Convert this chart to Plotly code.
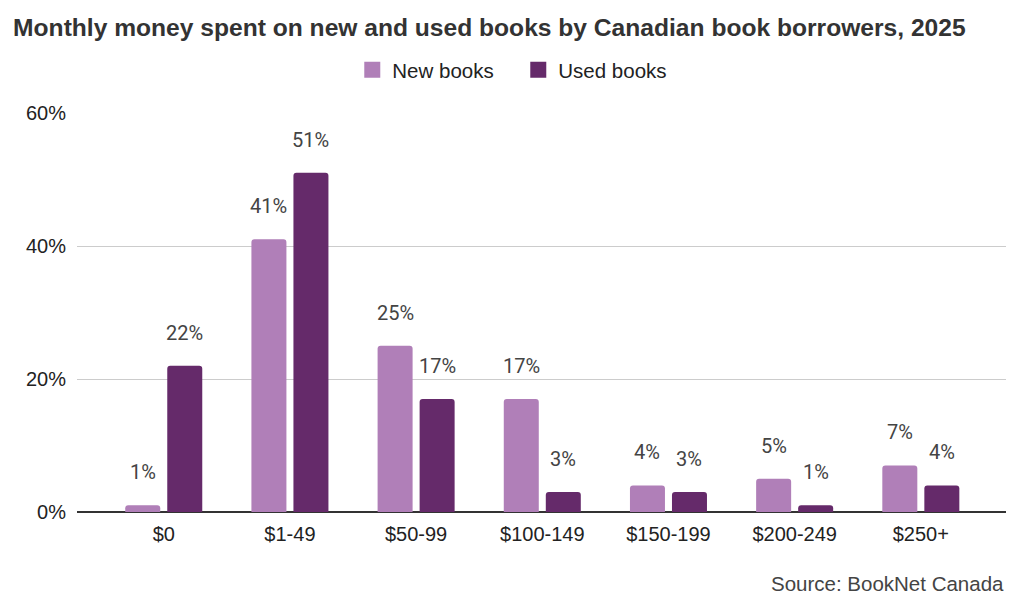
import plotly.graph_objects as go

categories = ["$0", "$1-49", "$50-99", "$100-149", "$150-199", "$200-249", "$250+"]
new_books = [1, 41, 25, 17, 4, 5, 7]
used_books = [22, 51, 17, 3, 3, 1, 4]

series = [("New books", new_books, "#b07fb8", -21), ("Used books", used_books, "#652a6a", 21)]

fig = go.Figure()
annotations = []
for name, values, color, shift in series:
    fig.add_trace(go.Bar(x=categories, y=values, name=name, showlegend=False,
                         marker=dict(color=color, line=dict(width=0)), hoverinfo="x+y"))
    # legend proxy with a bigger square symbol
    fig.add_trace(go.Scatter(x=[None], y=[None], mode="markers", name=name,
                             marker=dict(color=color, symbol="square", size=19)))
    for cat, v in zip(categories, values):
        annotations.append(dict(x=cat, y=v, text=f"{v}%", showarrow=False, xshift=shift,
                                yshift=33, yanchor="middle",
                                font=dict(family="Roboto", size=20, color="#444")))

annotations.append(dict(text="Source: BookNet Canada", x=1, xref="paper", xanchor="right",
                        y=-0.178, yref="paper", yanchor="middle", showarrow=False,
                        font=dict(size=20.5, color="#444")))

# page body adds an 8px margin, so the figure is offset by 8px
fig.update_layout(
    width=1024, height=604,
    paper_bgcolor="white", plot_bgcolor="white",
    barmode="group", bargap=0.334, bargroupgap=0.167, barcornerradius=3,
    margin=dict(l=69, r=26, t=105, b=100, autoexpand=False),
    font=dict(family="Liberation Sans", size=20, color="#222"),
    title=dict(text="<b>Monthly money spent on new and used books by Canadian book borrowers, 2025</b>",
               x=0.005, xanchor="left", y=1 - 19 / 604, yanchor="middle",
               font=dict(family="Liberation Sans", size=24.6, color="#333")),
    legend=dict(orientation="h", x=0.475, xanchor="center", y=1.108, yanchor="middle",
                entrywidth=121, entrywidthmode="pixels",
                font=dict(size=20.5, color="#222")),
    annotations=annotations,
)
fig.update_xaxes(range=[-0.6875, 6.675], showgrid=False, ticks="", tickfont=dict(size=20, color="#222"),
                 showline=False, ticklabelstandoff=8)
fig.update_yaxes(range=[0, 60], dtick=20, ticksuffix="%", gridcolor="#cccccc", gridwidth=1,
                 zeroline=True, zerolinecolor="#333333", zerolinewidth=1.5,
                 tickfont=dict(size=20, color="#222"), ticks="", ticklabelstandoff=10)

fig.write_html("out.html")
